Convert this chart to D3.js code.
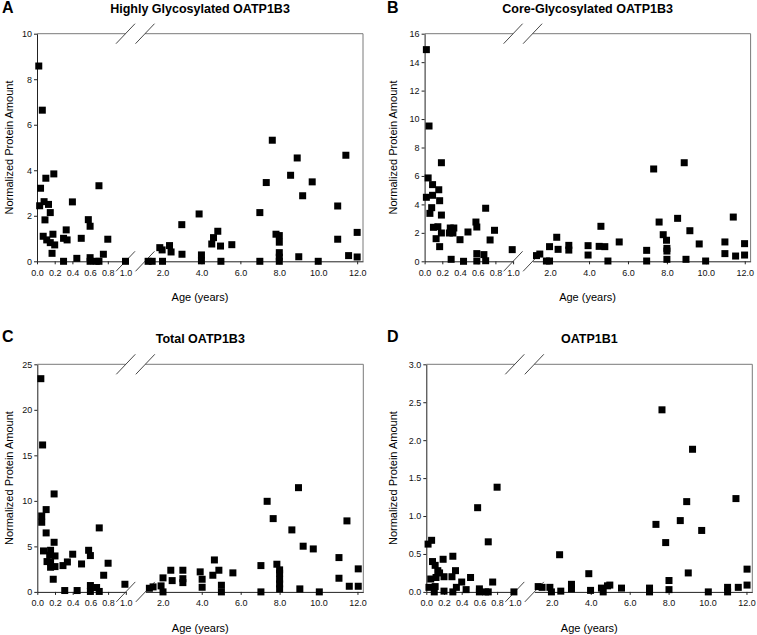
<!DOCTYPE html>
<html>
<head>
<meta charset="utf-8">
<script src="https://cdn.jsdelivr.net/npm/d3@7"></script>
<style>
  body { margin: 0; background: #fff; }
  text { font-family: "Liberation Sans", Arial, sans-serif; }
</style>
</head>
<body>
<script>
// ages (years) and normalized protein amounts
const highlyGlyco = [
    [0.02,8.58],[0.06,6.64],[0.04,3.21],[0.03,2.44],[0.10,3.65],[0.08,2.62],[0.13,2.50],[0.09,1.82],
    [0.15,2.14],[0.19,3.84],[0.07,1.10],[0.11,0.94],[0.15,0.82],[0.18,1.19],[0.20,0.72],[0.17,0.35],
    [0.30,0],[0.30,1.01],[0.33,1.38],[0.34,0.94],[0.40,2.61],[0.45,0.13],[0.50,1.01],[0.58,1.83],
    [0.60,1.54],[0.60,0.16],[0.60,0],[0.67,0],[0.70,3.32],[0.70,0],[0.75,0.31],[0.80,0.97],[1.0,0],
    [1.26,0],[1.47,0],[1.86,0.60],[1.98,0.50],[2.0,0],[2.36,0.69],[2.44,0.41],[2.99,1.61],[3.0,0.31],
    [3.88,2.08],[4.0,0.28],[4.0,0.02],[4.53,0.76],[4.62,1.04],[4.84,1.32],[4.98,0.67],[5.0,0],
    [5.56,0.73],[7.0,2.14],[7.0,0],[7.33,3.46],[7.64,5.32],[7.83,1.19],[8.0,1.13],[8.0,0.84],
    [8.0,0.38],[8.0,0.18],[8.0,0],[8.58,3.78],[8.92,4.54],[9.0,0.2],[9.2,2.88],[9.69,3.49],[10.0,0],
    [11.0,2.43],[11.0,0.97],[11.42,4.66],[11.56,0.25],[12.0,1.27],[12.0,0.19]
];
const coreGlyco = [
    [0.02,14.88],[0.05,9.51],[0.02,4.50],[0.04,5.86],[0.06,3.37],[0.08,3.77],[0.09,4.64],[0.09,5.39],
    [0.10,2.39],[0.13,1.59],[0.15,2.43],[0.16,5.03],[0.17,1.03],[0.17,4.26],[0.19,6.93],[0.19,3.25],
    [0.19,1.99],[0.28,1.99],[0.29,2.34],[0.30,0.14],[0.32,1.99],[0.33,2.34],[0.40,1.52],[0.44,0],
    [0.49,2.06],[0.58,2.76],[0.59,2.41],[0.59,0.54],[0.59,0.02],[0.67,0.47],[0.69,0.04],[0.69,3.73],
    [0.74,1.50],[0.79,2.18],[0.99,0.82],
    [1.30,0.40],[1.47,0.51],[1.81,0.02],[1.97,1.03],[1.97,0.02],[2.34,1.69],[2.41,0.84],[2.96,1.12],
    [2.96,0.79],[3.95,1.10],[3.95,0.44],[4.52,1.05],[4.61,2.46],[4.81,1.03],[4.97,0.02],[5.55,1.36],
    [6.96,0.77],[6.96,0.02],[7.32,6.49],[7.60,2.76],[7.81,1.87],[7.98,1.48],[8.0,0.91],[8.0,0.72],
    [8.0,0.14],[8.55,3.02],[8.89,6.93],[8.98,0.14],[9.18,2.15],[9.66,1.22],[9.99,0.02],[10.98,1.36],
    [10.98,0.54],[11.41,3.11],[11.53,0.37],[11.99,1.24],[11.99,0.44]
];
const totalB3 = [
    [0.04,23.42],[0.06,16.14],[0.05,8.34],[0.05,7.65],[0.07,4.50],[0.10,9.04],[0.10,6.48],[0.11,3.33],
    [0.14,4.03],[0.15,4.57],[0.15,3.26],[0.15,2.71],[0.18,1.39],[0.19,5.45],[0.19,10.76],[0.20,3.95],
    [0.20,2.78],[0.29,2.89],[0.31,0.15],[0.34,3.29],[0.40,4.14],[0.45,0.15],[0.50,3.07],[0.58,4.57],
    [0.60,3.99],[0.60,0.70],[0.60,0.05],[0.67,0.48],[0.70,0.05],[0.70,7.03],[0.75,1.83],[0.80,3.15],
    [0.99,0.84],
    [1.31,0.40],[1.50,0.55],[1.91,0.66],[2.01,1.54],[2.01,0],[2.41,2.38],[2.48,1.24],[3.03,2.38],
    [3.03,1.45],[3.03,1.02],[3.92,2.20],[4.02,1.39],[4.02,0.51],[4.57,1.83],[4.65,3.51],[4.88,2.38],
    [5.01,0.73],[5.01,0],[5.60,2.09],[7.04,2.89],[7.04,0],[7.36,9.95],[7.67,8.05],[7.86,3.04],
    [8.0,2.42],[8.0,2.05],[8.0,1.39],[8.0,0.88],[8.0,0.33],[8.63,6.81],[8.97,11.45],[9.04,0.33],
    [9.21,5.02],[9.73,4.72],[10.04,0],[11.05,3.77],[11.05,1.50],[11.46,7.80],[11.58,0.62],
    [12.04,2.53],[12.04,0.62]
];
const oatp1b1 = [
    [0.02,0.63],[0.03,0.06],[0.05,0.17],[0.06,0.68],[0.07,0.40],[0.09,0],[0.10,0.07],[0.10,0.35],
    [0.11,0.19],[0.13,0.28],[0.15,0.25],[0.19,0.43],[0.20,0.20],[0.20,0.01],[0.29,0.20],[0.30,0.47],
    [0.30,0],[0.33,0.28],[0.34,0.06],[0.40,0.13],[0.45,0.03],[0.50,0.19],[0.58,1.11],[0.60,0.04],
    [0.60,0],[0.67,0],[0.70,0.66],[0.70,0],[0.75,0.13],[0.80,1.38],[0.99,0],
    [1.30,0.07],[1.50,0.06],[1.90,0.06],[1.98,0],[2.40,0.49],[2.46,0.01],[3.01,0.10],[3.01,0.04],
    [3.90,0.24],[3.99,0.02],[4.55,0.05],[4.64,0],[4.86,0.08],[4.98,0.09],[5.58,0.05],[7.02,0.05],
    [7.02,0],[7.35,0.89],[7.66,2.40],[7.85,0.65],[8.02,0.15],[8.02,0.03],[8.60,0.94],[8.93,1.19],
    [9.01,0.25],[9.23,1.88],[9.70,0.81],[10.04,0],[11.03,0.06],[11.03,0],[11.46,1.23],[11.58,0.06],
    [12.03,0.30],[12.03,0.09]
];

const leftTicks  = [0, 0.2, 0.4, 0.6, 0.8, 1.0];
const rightTicks = [2, 4, 6, 8, 10, 12];
const ticksA = [0, 2, 4, 6, 8, 10];
const ticksB = [0, 2, 4, 6, 8, 10, 12, 14, 16];
const ticksC = [0, 5, 10, 15, 20, 25];
const ticksD = [0, 0.5, 1.0, 1.5, 2.0, 2.5, 3.0];

const panels = [
    {letter: "A", title: "Highly Glycosylated OATP1B3", data: highlyGlyco, yTicks: ticksA, fmt: "d",
     x: 37, y: 33.7, lx: 2, ly: 13.3, ylabX: 9},
    {letter: "B", title: "Core-Glycosylated OATP1B3", data: coreGlyco, yTicks: ticksB, fmt: "d",
     x: 424.6, y: 33.7, lx: 387, ly: 13.3, ylabX: 393.5},
    {letter: "C", title: "Total OATP1B3", data: totalB3, yTicks: ticksC, fmt: "d",
     x: 37.3, y: 364.3, lx: 2, ly: 341.7, ylabX: 9},
    {letter: "D", title: "OATP1B1", data: oatp1b1, yTicks: ticksD, fmt: ".1f",
     x: 426.3, y: 364.3, lx: 387, ly: 341.7, ylabX: 393}
];

const width = 326, height = 227.6;
const breakL = 88.5, breakR = 108;
const frameColor = "#7a7a7a", axisColor = "#222";

const svg = d3.select("body").append("svg")
    .attr("width", 757)
    .attr("height", 635);

panels.forEach(function(p){
    const g = svg.append("g").attr("transform", "translate(" + p.x + "," + p.y + ")");

    const xLeft = d3.scaleLinear().domain([0, 1]).range([0, breakL]);
    const xRight = d3.scaleLinear().domain([1.1, 12.3]).range([breakR, width]);
    const xPos = function(a){ return a <= 1.05 ? xLeft(a) : xRight(a); };
    const yScale = d3.scaleLinear().domain([0, d3.max(p.yTicks)]).range([height, 0]);

    // frame (top and right)
    g.append("line").attr("x1", 0).attr("x2", breakL).attr("y1", 0).attr("y2", 0)
        .attr("stroke", frameColor);
    g.append("line").attr("x1", breakR).attr("x2", width).attr("y1", 0).attr("y2", 0)
        .attr("stroke", frameColor);
    g.append("line").attr("x1", width).attr("x2", width).attr("y1", 0).attr("y2", height)
        .attr("stroke", frameColor);

    // axes
    const yAxis = g.append("g")
        .call(d3.axisLeft(yScale).tickValues(p.yTicks).tickFormat(d3.format(p.fmt))
            .tickSize(3).tickPadding(2).tickSizeOuter(0));
    const xAxL = g.append("g").attr("transform", "translate(0," + height + ")")
        .call(d3.axisBottom(xLeft).tickValues(leftTicks).tickFormat(d3.format(".1f"))
            .tickSize(3).tickPadding(5).tickSizeOuter(0));
    const xAxR = g.append("g").attr("transform", "translate(0," + height + ")")
        .call(d3.axisBottom(xRight).tickValues(rightTicks).tickFormat(d3.format(".1f"))
            .tickSize(3).tickPadding(5).tickSizeOuter(0));
    [yAxis, xAxL, xAxR].forEach(function(ax){
        ax.selectAll("path, line").attr("stroke", axisColor);
        ax.selectAll("text").attr("fill", "#111").style("font-size", "9px")
            .style("font-family", "'Liberation Sans', Arial, sans-serif");
    });

    // axis break marks
    [breakL, breakR].forEach(function(bx){
        [0, height].forEach(function(by){
            g.append("line")
                .attr("x1", bx - 9.5).attr("y1", by + 10)
                .attr("x2", bx + 9.5).attr("y2", by - 10)
                .attr("stroke", "#333").attr("stroke-width", 0.9);
        });
    });

    // points
    const s = 7;
    g.selectAll(".pt")
        .data(p.data)
        .enter()
        .append("rect")
        .attr("class", "pt")
        .attr("x", function(d){ return xPos(d[0]) - s / 2; })
        .attr("y", function(d){ return yScale(d[1]) - s / 2; })
        .attr("width", s)
        .attr("height", s)
        .attr("fill", "#000");

    // labels
    svg.append("text")
        .attr("x", p.lx).attr("y", p.ly)
        .text(p.letter)
        .style("font-size", "16px").style("font-weight", "bold");
    svg.append("text")
        .attr("x", p.x + width / 2).attr("y", p.y - 21)
        .attr("text-anchor", "middle")
        .text(p.title)
        .style("font-size", "12.5px").style("font-weight", "bold");
    svg.append("text")
        .attr("x", p.x + width / 2).attr("y", p.y + height + 40)
        .attr("text-anchor", "middle")
        .text("Age (years)")
        .style("font-size", "11px");
    svg.append("text")
        .attr("transform", "translate(" + p.ylabX + "," + (p.y + height / 2) + ") rotate(-90)")
        .attr("text-anchor", "middle")
        .attr("dy", "0.35em")
        .text("Normalized Protein Amount")
        .style("font-size", "11px");
});
</script>
</body>
</html>
